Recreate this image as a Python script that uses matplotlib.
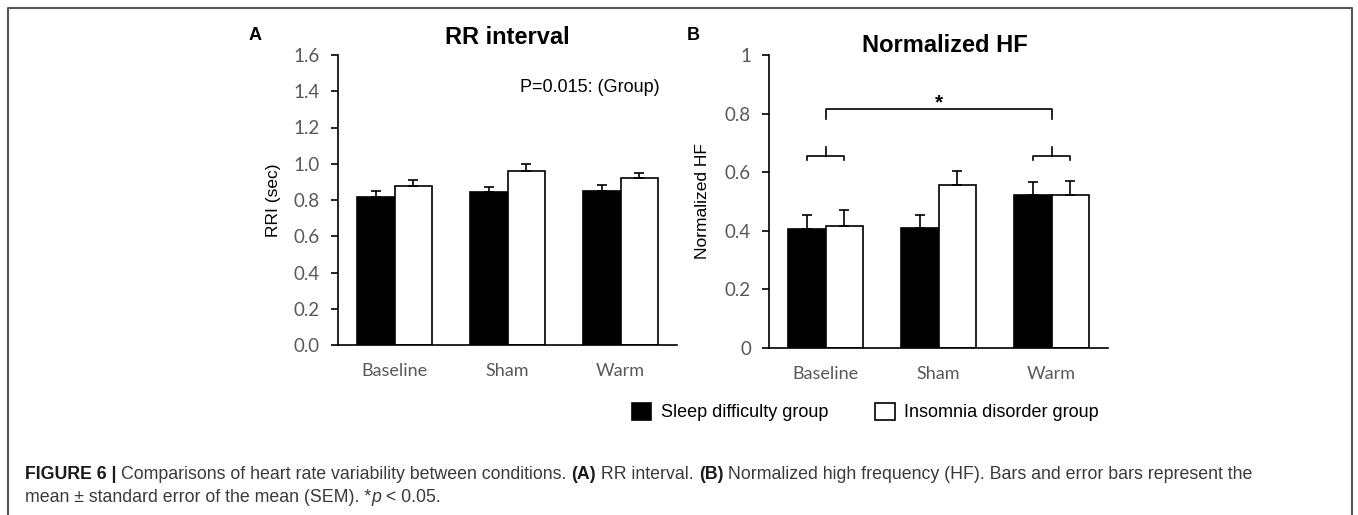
import matplotlib
matplotlib.use("Agg")
import matplotlib.pyplot as plt
import numpy as np
from matplotlib.transforms import IdentityTransform
from matplotlib.lines import Line2D

# data
conditions = ["Baseline", "Sham", "Warm"]
rri_sleep = [0.818, 0.844, 0.850]
rri_sleep_err = [0.033, 0.026, 0.035]
rri_insom = [0.879, 0.960, 0.920]
rri_insom_err = [0.031, 0.037, 0.027]
hf_sleep = [0.406, 0.411, 0.523]
hf_sleep_err = [0.048, 0.043, 0.042]
hf_insom = [0.417, 0.557, 0.523]
hf_insom_err = [0.054, 0.047, 0.047]
rri_ticks = [0.0, 0.2, 0.4, 0.6, 0.8, 1.0, 1.2, 1.4, 1.6]
hf_ticks = [0, 0.2, 0.4, 0.6, 0.8, 1]
hf_tick_labels = ["0", "0.2", "0.4", "0.6", "0.8", "1"]

W, H = 1358, 515
fig = plt.figure(figsize=(W / 100, H / 100), dpi=100)
fig.patch.set_facecolor("white")

tick_grey = "#595959"
arial = "Liberation Sans"
calib = "Lato"
width = 0.33
x = np.arange(len(conditions))


def fx(px):
    return px / W


def fy(py):
    return 1 - py / H


def draw_panel(ax, sleep, sleep_err, insom, insom_err):
    ax.bar(x - width / 2, sleep, width, color="black", edgecolor="black", linewidth=1.2,
           yerr=[np.zeros(3), sleep_err], error_kw=dict(ecolor="black", elinewidth=1.2,
                                                        capsize=3.8, capthick=1.2))
    ax.bar(x + width / 2, insom, width, color="white", edgecolor="black", linewidth=1.2,
           yerr=[np.zeros(3), insom_err], error_kw=dict(ecolor="black", elinewidth=1.2,
                                                        capsize=3.8, capthick=1.2))
    ax.set_xlim(-0.5, 2.5)
    for s in ["top", "right"]:
        ax.spines[s].set_visible(False)
    for s in ["left", "bottom"]:
        ax.spines[s].set_linewidth(1.2)
    ax.set_xticks(x)
    ax.set_xticklabels(conditions, family=calib, fontsize=13, color=tick_grey)
    ax.tick_params(axis="x", length=0, pad=13)
    ax.tick_params(axis="y", direction="out", length=5, width=1.2, pad=8,
                   labelsize=13.5, labelcolor=tick_grey)


# panel A
axA = fig.add_axes([fx(338), 1 - 345 / H, fx(677) - fx(338), (345 - 55) / H])
draw_panel(axA, rri_sleep, rri_sleep_err, rri_insom, rri_insom_err)
axA.set_ylim(0, 1.6)
axA.set_yticks(rri_ticks)
axA.set_yticklabels([f"{t:.1f}" for t in rri_ticks], family=calib)
axA.set_ylabel("RRI (sec)", family=arial, fontsize=12.5, labelpad=9)
axA.text(2.35, 1.42, "P=0.015: (Group)", family=arial, fontsize=13, ha="right", va="center")
fig.text(fx(507), fy(37), "RR interval", family=arial, fontsize=17, weight="bold",
         ha="center", va="center")
fig.text(fx(255), fy(35), "A", family=arial, fontsize=13, weight="bold", ha="center", va="center")

# panel B
axB = fig.add_axes([fx(769), 1 - 348 / H, fx(1108) - fx(769), (348 - 55) / H])
draw_panel(axB, hf_sleep, hf_sleep_err, hf_insom, hf_insom_err)
axB.set_ylim(0, 1)
axB.set_yticks(hf_ticks)
axB.set_yticklabels(hf_tick_labels, family=calib)
axB.set_ylabel("Normalized HF", family=arial, fontsize=12.5, labelpad=11)
fig.text(fx(945), fy(45), "Normalized HF", family=arial, fontsize=17, weight="bold",
         ha="center", va="center")
fig.text(fx(693), fy(35), "B", family=arial, fontsize=13, weight="bold", ha="center", va="center")

# significance brackets
bk = dict(color="black", lw=1.2, clip_on=False)
axB.plot([0, 0, 2, 2], [0.781, 0.815, 0.815, 0.781], **bk)
axB.text(1, 0.818, "*", family=arial, fontsize=15, weight="bold", ha="center", va="baseline")
for g in [0, 2]:
    axB.plot([g - width / 2, g - width / 2, g + width / 2, g + width / 2],
             [0.642, 0.656, 0.656, 0.642], **bk)
    axB.plot([g, g], [0.656, 0.685], **bk)

# legend
handles = [plt.Rectangle((0, 0), 1, 1, facecolor="black", edgecolor="black", lw=1.2),
           plt.Rectangle((0, 0), 1, 1, facecolor="white", edgecolor="black", lw=1.2)]
fig.legend(handles, ["Sleep difficulty group", "Insomnia disorder group"],
           loc="center", bbox_to_anchor=(fx(865), fy(412)), ncol=2, frameon=False,
           prop=dict(family=arial, size=13), handlelength=1.1, handleheight=1.1,
           handletextpad=0.5, columnspacing=2.6)

# outer frame
fig.add_artist(Line2D([fx(8), fx(8), fx(1352), fx(1352)], [0, fy(8), fy(8), 0],
                      transform=fig.transFigure, color="#555555", lw=1.5))

# caption, drawn run by run
renderer = fig.canvas.get_renderer()


def text_run(x0, y0, parts):
    xp = x0
    for s, kw in parts:
        t = fig.text(xp, H - y0, s, transform=IdentityTransform(), family=arial,
                     fontsize=12.8, va="baseline", **kw)
        xp = t.get_window_extent(renderer).x1


B_ = dict(weight="bold", color="#1a1a1a")
N_ = dict(color="#3a3a3a")
I_ = dict(color="#3a3a3a", style="italic")
text_run(25, 479, [("FIGURE 6 | ", B_),
                   ("Comparisons of heart rate variability between conditions. ", N_),
                   ("(A)", B_), (" RR interval. ", N_), ("(B)", B_),
                   (" Normalized high frequency (HF). Bars and error bars represent the", N_)])
text_run(25, 502, [("mean \u00b1 standard error of the mean (SEM). *", N_),
                   ("p", I_), (" < 0.05.", N_)])

fig.savefig("out.png", dpi=100)
